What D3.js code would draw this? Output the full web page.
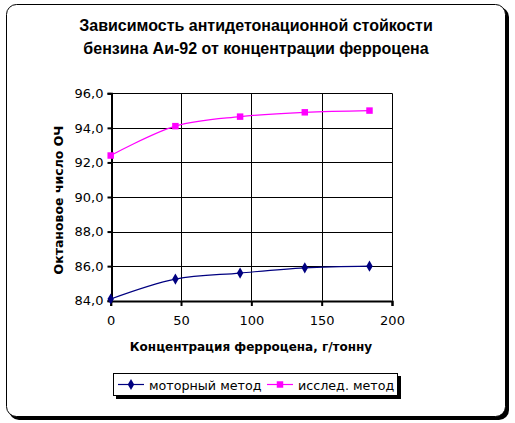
<!DOCTYPE html>
<html><head><meta charset="utf-8">
<script src="https://cdn.jsdelivr.net/npm/d3@7/dist/d3.min.js"></script>
<style>body{margin:0;background:#fff}svg{display:block}</style>
</head><body>
<script>
const xValues = [0, 46, 92, 138, 184];
const motorValues = [84.1, 85.25, 85.6, 85.9, 86.0];
const researchValues = [92.4, 94.1, 94.65, 94.9, 95.0];
const yTicks = [84, 86, 88, 90, 92, 94, 96];
const xTicks = [0, 50, 100, 150, 200];
const seriesNames = ["моторный метод", "исслед. метод"];
const titleLines = ["Зависимость антидетонационной стойкости", "бензина Аи-92 от концентрации ферроцена"];

const W = 515, H = 423;
const svg = d3.select("body").append("svg").attr("width", W).attr("height", H);
const font = "DejaVu Sans, sans-serif";
const titleFont = "Liberation Sans, Arial, sans-serif";

// outer frame with shadow
svg.append("rect").attr("x", 9).attr("y", 7).attr("width", 500).attr("height", 413).attr("rx", 10).attr("fill", "#000");
svg.append("rect").attr("x", 6.5).attr("y", 4.5).attr("width", 499).attr("height", 412).attr("rx", 10).attr("fill", "#fff").attr("stroke", "#000").attr("stroke-width", 1);

// title
svg.append("text").attr("x", 256).attr("font-family", titleFont).attr("font-weight", "bold").attr("font-size", 16)
  .attr("text-anchor", "middle")
  .selectAll("tspan").data(titleLines).join("tspan")
  .attr("x", 256).attr("y", (d, i) => 31 + i * 23).text(d => d);

const x = d3.scaleLinear().domain([0, 200]).range([110.7, 392]);
const y = d3.scaleLinear().domain([84, 96]).range([300.7, 93.3]);

const g = svg.append("g");
// grid
g.selectAll(".hg").data(yTicks).join("line")
  .attr("x1", x(0)).attr("x2", x(200)).attr("y1", d => Math.round(y(d)) + 0.5).attr("y2", d => Math.round(y(d)) + 0.5)
  .attr("stroke", "#000").attr("stroke-width", 1);
g.selectAll(".vg").data(xTicks.slice(1)).join("line")
  .attr("x1", d => Math.round(x(d)) + 0.5).attr("x2", d => Math.round(x(d)) + 0.5).attr("y1", y(96)).attr("y2", y(84))
  .attr("stroke", "#000").attr("stroke-width", 1);

// axes
const yAxis = d3.axisLeft(y).tickValues(yTicks).tickSize(4).tickPadding(4).tickFormat(d => d3.format(".1f")(d).replace(".", ","));
const ya = svg.append("g").attr("transform", `translate(${Math.round(x(0)) + 0.5},0)`).call(yAxis);
const xAxis = d3.axisBottom(x).tickValues(xTicks).tickSize(5).tickPadding(10).tickFormat(d3.format("d"));
const xa = svg.append("g").attr("transform", `translate(0,${Math.round(y(84))})`).call(xAxis);
[ya, xa].forEach(a => {
  a.select(".domain").attr("stroke", "#000").attr("stroke-width", 2);
  a.selectAll(".tick line").attr("stroke", "#000").attr("stroke-width", 2);
  a.selectAll("text").attr("font-family", font).attr("font-size", 13).attr("fill", "#000");
});

// axis titles
svg.append("text").attr("transform", "translate(63,200) rotate(-90)").attr("text-anchor", "middle")
  .attr("font-family", font).attr("font-weight", "bold").attr("font-size", 12.5).text("Октановое число ОЧ");
svg.append("text").attr("x", 251).attr("y", 351).attr("text-anchor", "middle")
  .attr("font-family", font).attr("font-weight", "bold").attr("font-size", 12).text("Концентрация ферроцена, г/тонну");

// lines
const series = [
  {name: seriesNames[0], values: motorValues, color: "#000080", sym: d3.symbolDiamond},
  {name: seriesNames[1], values: researchValues, color: "#FF00FF", sym: d3.symbolSquare}
];
const line = d3.line().x(d => x(d[0])).y(d => y(d[1])).curve(d3.curveCatmullRom.alpha(0.5));
series.forEach(s => {
  const pts = xValues.map((xv, i) => [xv, s.values[i]]);
  svg.append("path").attr("d", line(pts)).attr("fill", "none").attr("stroke", s.color).attr("stroke-width", 1.2);
  svg.selectAll(null).data(pts).join("path")
    .attr("transform", d => `translate(${x(d[0])},${y(d[1])})`)
    .attr("d", d3.symbol().type(s.sym).size(s.sym === d3.symbolSquare ? 42 : 36))
    .attr("fill", s.color);
});

// legend
svg.append("rect").attr("x", 116).attr("y", 376).attr("width", 285).attr("height", 23).attr("fill", "#000");
svg.append("rect").attr("x", 113.5).attr("y", 373.5).attr("width", 284).attr("height", 22).attr("fill", "#fff").attr("stroke", "#000");
const legX = [118, 267];
series.forEach((s, i) => {
  const lx = legX[i], ly = 384.5;
  svg.append("line").attr("x1", lx).attr("x2", lx + 26).attr("y1", ly).attr("y2", ly).attr("stroke", s.color).attr("stroke-width", 1.2);
  svg.append("path").attr("transform", `translate(${lx + 13},${ly})`)
    .attr("d", d3.symbol().type(s.sym).size(s.sym === d3.symbolSquare ? 42 : 36)).attr("fill", s.color);
  svg.append("text").attr("x", lx + 31).attr("y", ly + 5).attr("font-family", font).attr("font-size", 12.7).text(s.name);
});
</script>
</body></html>
